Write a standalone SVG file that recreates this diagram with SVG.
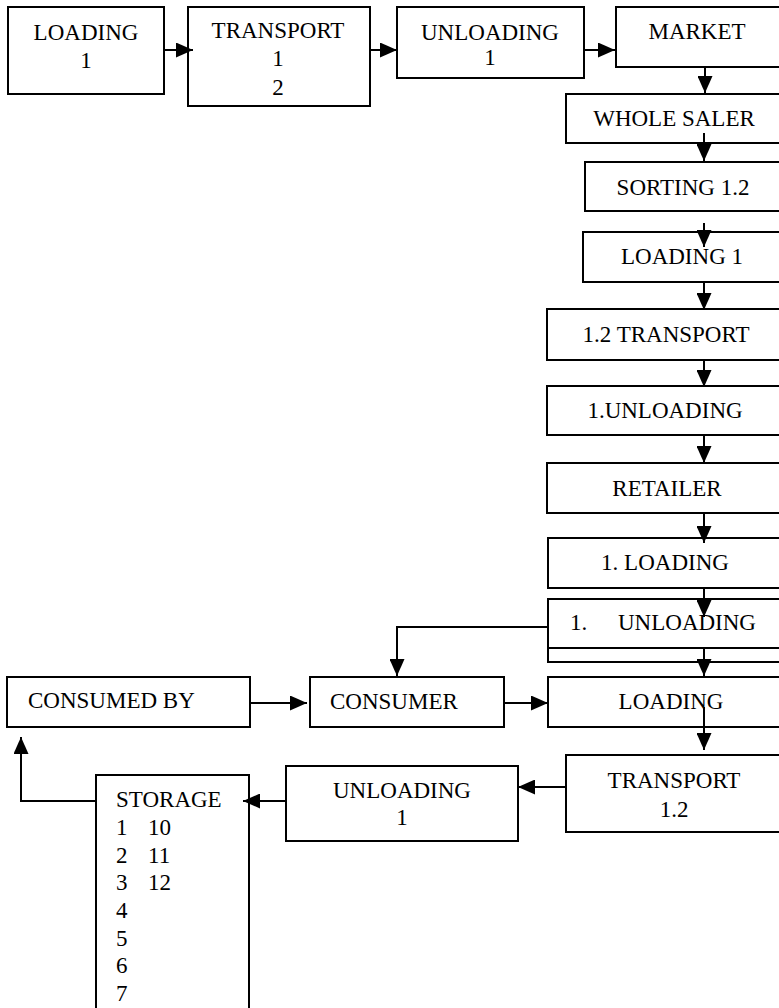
<svg xmlns="http://www.w3.org/2000/svg" width="779" height="1008" viewBox="0 0 779 1008">
<style>
rect{fill:#fff;stroke:#000;stroke-width:2}
text{font-family:"Liberation Serif","Times New Roman",serif;font-size:23px;fill:#000}
.c{text-anchor:middle}
.e{fill:none;stroke:#000;stroke-width:2}
</style>
<defs>
<marker id="ah" markerUnits="userSpaceOnUse" markerWidth="17" markerHeight="15" refX="17" refY="7.5" orient="auto">
<path d="M0,0 L17,7.5 L0,15 Z" fill="#000"/>
</marker>
</defs>
<rect x="0" y="0" width="779" height="1008" style="fill:#fff;stroke:none"/>
<g id="loading1"><rect x="8" y="7" width="156" height="87"/><text class="c" x="86" y="40">LOADING</text><text class="c" x="86" y="68">1</text></g>
<g id="transport1"><rect x="188" y="7" width="182" height="99"/><text class="c" x="278" y="38">TRANSPORT</text><text class="c" x="278" y="66">1</text><text class="c" x="278" y="95">2</text></g>
<g id="unloading1"><rect x="397" y="7" width="187" height="71"/><text class="c" x="490" y="40">UNLOADING</text><text class="c" x="490" y="65">1</text></g>
<g id="market"><rect x="616" y="7" width="170" height="60"/><text class="c" x="697" y="39">MARKET</text></g>
<g id="wholesaler"><rect x="566" y="94" width="220" height="49"/><text class="c" x="674" y="126">WHOLE SALER</text></g>
<g id="sorting"><rect x="585" y="162" width="200" height="49"/><text class="c" x="683" y="195">SORTING 1.2</text></g>
<g id="loading2"><rect x="583" y="232" width="200" height="50"/><text class="c" x="682" y="264">LOADING 1</text></g>
<g id="transport2"><rect x="547" y="309" width="240" height="51"/><text class="c" x="666" y="342">1.2 TRANSPORT</text></g>
<g id="unloading2"><rect x="547" y="386" width="240" height="49"/><text class="c" x="665" y="418">1.UNLOADING</text></g>
<g id="retailer"><rect x="547" y="463" width="240" height="50"/><text class="c" x="667" y="496">RETAILER</text></g>
<g id="loading3"><rect x="548" y="538" width="240" height="50"/><text class="c" x="665" y="570">1. LOADING</text></g>
<g id="unloading3"><rect x="548" y="648" width="240" height="14"/><rect x="548" y="599" width="240" height="49"/><text x="570" y="630">1.<tspan x="618">UNLOADING</tspan></text></g>
<g id="loading4"><rect x="548" y="677" width="240" height="50"/><text class="c" x="671" y="709">LOADING</text></g>
<g id="consumer"><rect x="310" y="677" width="194" height="50"/><text x="330" y="709">CONSUMER</text></g>
<g id="consumedby"><rect x="7" y="677" width="243" height="50"/><text x="28" y="708">CONSUMED BY</text></g>
<g id="transport3"><rect x="566" y="755" width="220" height="77"/><text class="c" x="674" y="788">TRANSPORT</text><text class="c" x="674" y="817">1.2</text></g>
<g id="unloading4"><rect x="286" y="766" width="232" height="75"/><text class="c" x="402" y="798">UNLOADING</text><text class="c" x="402" y="825">1</text></g>
<g id="storage"><rect x="96" y="775" width="153" height="250"/>
<text x="116" y="807">STORAGE</text>
<text x="116" y="835">1<tspan x="148">10</tspan></text>
<text x="116" y="863">2<tspan x="148">11</tspan></text>
<text x="116" y="890">3<tspan x="148">12</tspan></text>
<text x="116" y="918">4</text>
<text x="116" y="946">5</text>
<text x="116" y="973">6</text>
<text x="116" y="1001">7</text>
</g>
<g id="connectors" class="e">
<path class="e" d="M164,50 H193" marker-end="url(#ah)"/>
<path class="e" d="M370,50 H397" marker-end="url(#ah)"/>
<path class="e" d="M584,50 H615" marker-end="url(#ah)"/>
<path class="e" d="M705,67 V93" marker-end="url(#ah)"/>
<path class="e" d="M704,133 V161" marker-end="url(#ah)"/>
<path class="e" d="M704,223 V247" marker-end="url(#ah)"/>
<path class="e" d="M704,282 V310" marker-end="url(#ah)"/>
<path class="e" d="M704,360 V387" marker-end="url(#ah)"/>
<path class="e" d="M704,435 V463" marker-end="url(#ah)"/>
<path class="e" d="M704,513 V543" marker-end="url(#ah)"/>
<path class="e" d="M704,588 V617" marker-end="url(#ah)"/>
<path class="e" d="M704,647 V676" marker-end="url(#ah)"/>
<path class="e" d="M548,627 H397 V676" marker-end="url(#ah)"/>
<path class="e" d="M250,703 H307" marker-end="url(#ah)"/>
<path class="e" d="M504,703 H548" marker-end="url(#ah)"/>
<path class="e" d="M704,707 V750" marker-end="url(#ah)"/>
<path class="e" d="M565,787 H518" marker-end="url(#ah)"/>
<path class="e" d="M285,801 H243" marker-end="url(#ah)"/>
<path class="e" d="M96,801 H21 V737" marker-end="url(#ah)"/>
</g>
</svg>
